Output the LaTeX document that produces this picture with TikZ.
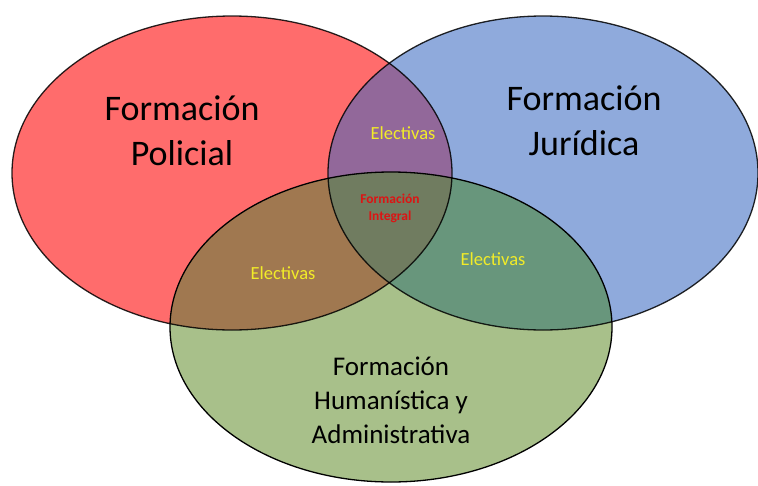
\documentclass[tikz,border=0pt]{standalone}
\usepackage{fontspec}
\setmainfont{Carlito}
\definecolor{cRed}{RGB}{255,108,108}
\definecolor{cBlue}{RGB}{143,170,220}
\definecolor{cGreen}{RGB}{168,192,138}
\definecolor{cRB}{RGB}{146,104,154}
\definecolor{cRG}{RGB}{160,120,80}
\definecolor{cBG}{RGB}{104,150,124}
\definecolor{cAll}{RGB}{112,124,96}
\definecolor{cYel}{RGB}{242,236,40}
\definecolor{cInt}{RGB}{220,20,20}
\tikzset{
  big/.style={align=center, font=\fontsize{36}{45}\selectfont, text=black},
  mid/.style={align=center, font=\fontsize{27}{34}\selectfont, text=black},
  elect/.style={font=\fontsize{18.5}{22}\selectfont, text=cYel},
  integ/.style={align=center, font=\bfseries\fontsize{13.5}{17}\selectfont, text=cInt},
  rim/.style={draw=black, line width=1.3pt}
}
\def\redE{(232,173) ellipse [x radius=220pt, y radius=157pt]}
\def\blueE{(543,173) ellipse [x radius=215pt, y radius=157pt]}
\def\greenE{(391,327) ellipse [x radius=221pt, y radius=155pt]}
\begin{document}
\begin{tikzpicture}[x=1pt,y=-1pt]
\useasboundingbox (0,0) rectangle (758,485);
\fill[white] (0,0) rectangle (758,485);
\fill[cRed] \redE;
\fill[cBlue] \blueE;
\fill[cGreen] \greenE;
\begin{scope}\clip \redE; \fill[cRB] \blueE; \fill[cRG] \greenE; \end{scope}
\begin{scope}\clip \blueE; \fill[cBG] \greenE; \end{scope}
\begin{scope}\clip \redE; \clip \blueE; \fill[cAll] \greenE; \end{scope}
\draw[rim, draw opacity=0.85] \redE;
\draw[rim, draw opacity=0.85] \blueE;
\draw[rim] \greenE;
\node[big] (pol) at (182,131) {Formación\\Policial};
\node[big] (jur) at (584,121) {Formación\\Jurídica};
\node[mid] (hum) at (391,400) {Formación\\Humanística y\\Administrativa};
\node[elect] (e1) at (403,133) {Electivas};
\node[elect] (e2) at (283,273) {Electivas};
\node[elect] (e3) at (493,259) {Electivas};
\node[integ] (int) at (390,208) {Formación\\Integral};
\end{tikzpicture}
\end{document}
